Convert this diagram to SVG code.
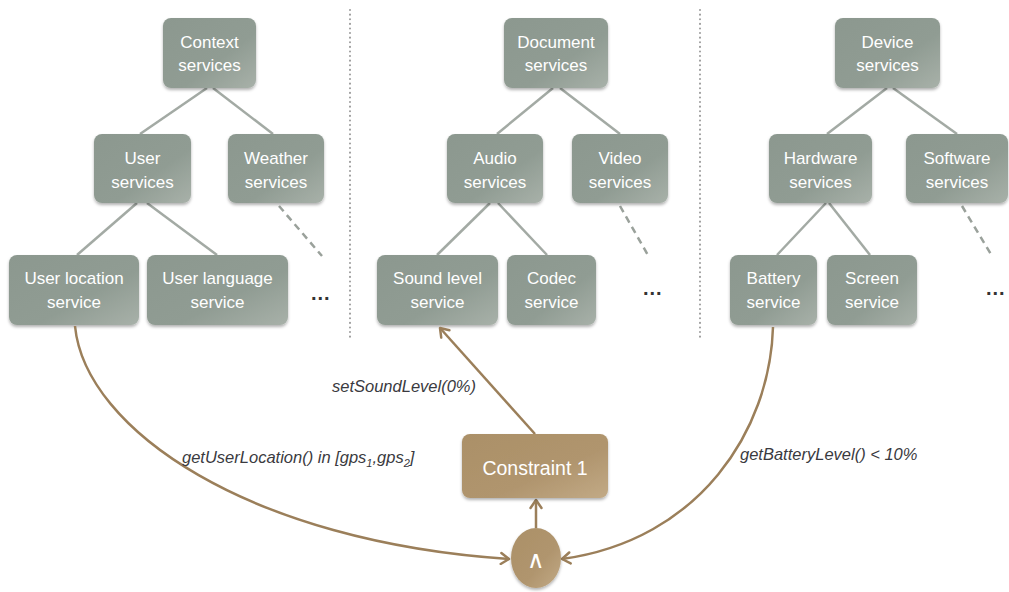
<svg xmlns="http://www.w3.org/2000/svg" width="1009" height="592" viewBox="0 0 1009 592">
<style>
.node rect{fill:url(#g);filter:url(#sh)}
.node text{font-family:"Liberation Sans",Arial,sans-serif;font-size:17px;fill:#fff;text-anchor:middle}
.tree{stroke:#a3aaa4;stroke-width:2.5;fill:none}
.dash{stroke:#9aa19b;stroke-width:2.5;stroke-dasharray:7,5;fill:none}
.sep{stroke:#9a9a9a;stroke-width:2;stroke-dasharray:0.1,4.5;stroke-linecap:round;fill:none}
.conn{stroke:#9b7f5a;stroke-width:2.5;fill:none}
.lbl{font-family:"Liberation Sans",Arial,sans-serif;font-size:16.5px;font-style:italic;fill:#3a3a40}
.dots{font-family:"Liberation Sans",Arial,sans-serif;font-size:20px;font-weight:bold;fill:#333;letter-spacing:1px}
</style>
<defs>
<linearGradient id="g" x1="0" y1="0" x2="1" y2="1">
<stop offset="0" stop-color="#8c988f"/><stop offset="0.6" stop-color="#909c93"/><stop offset="1" stop-color="#a8b1a9"/>
</linearGradient>
<linearGradient id="gb" x1="0" y1="0" x2="1" y2="1">
<stop offset="0" stop-color="#ab9068"/><stop offset="0.6" stop-color="#b0956e"/><stop offset="1" stop-color="#c2aa86"/>
</linearGradient>
<filter id="sh" x="-10%" y="-10%" width="120%" height="130%">
<feDropShadow dx="0" dy="2" stdDeviation="1.5" flood-color="#000" flood-opacity="0.3"/>
</filter>
<marker id="ah" markerWidth="14" markerHeight="14" refX="11" refY="7" orient="auto" markerUnits="userSpaceOnUse">
<polyline points="3,1.5 11,7 3,12.5" fill="none" stroke="#9b7f5a" stroke-width="2.5" stroke-linecap="round" stroke-linejoin="round"/>
</marker>
</defs>
<rect width="1009" height="592" fill="#fff"/>

<g id="separators">
<line class="sep" x1="350" y1="10" x2="350" y2="338"/>
<line class="sep" x1="700" y1="10" x2="700" y2="338"/>
</g>

<g id="tree-lines">
<line class="tree" x1="207" y1="88" x2="140" y2="134"/>
<line class="tree" x1="213" y1="88" x2="273" y2="134"/>
<line class="tree" x1="137" y1="203" x2="77" y2="255"/>
<line class="tree" x1="147" y1="203" x2="217" y2="255"/>
<line class="dash" x1="279" y1="206" x2="322" y2="256"/>
<line class="tree" x1="553" y1="88" x2="497" y2="134"/>
<line class="tree" x1="560" y1="88" x2="620" y2="134"/>
<line class="tree" x1="490" y1="203" x2="437" y2="255"/>
<line class="tree" x1="498" y1="203" x2="547" y2="255"/>
<line class="dash" x1="620" y1="206" x2="649" y2="257"/>
<line class="tree" x1="887" y1="88" x2="827" y2="134"/>
<line class="tree" x1="893" y1="88" x2="957" y2="134"/>
<line class="tree" x1="826" y1="203" x2="777" y2="255"/>
<line class="tree" x1="829" y1="203" x2="870" y2="255"/>
<line class="dash" x1="962" y1="206" x2="992" y2="256"/>
</g>

<g id="n-context" class="node"><rect x="163" y="18" width="93" height="70" rx="8"/><text x="209.5" y="48">Context</text><text x="209.5" y="71">services</text></g>
<g id="n-user" class="node"><rect x="94" y="134" width="97" height="69" rx="8"/><text x="142.5" y="164">User</text><text x="142.5" y="188">services</text></g>
<g id="n-weather" class="node"><rect x="228" y="134" width="96" height="69" rx="8"/><text x="276" y="164">Weather</text><text x="276" y="188">services</text></g>
<g id="n-userloc" class="node"><rect x="9" y="255" width="130" height="70" rx="8"/><text x="74" y="284">User location</text><text x="74" y="308">service</text></g>
<g id="n-userlang" class="node"><rect x="147" y="255" width="141" height="70" rx="8"/><text x="217.5" y="284">User language</text><text x="217.5" y="308">service</text></g>
<text class="dots" x="311" y="300">...</text>

<g id="n-document" class="node"><rect x="504" y="18" width="104" height="70" rx="8"/><text x="556" y="48">Document</text><text x="556" y="71">services</text></g>
<g id="n-audio" class="node"><rect x="447" y="134" width="96" height="69" rx="8"/><text x="495" y="164">Audio</text><text x="495" y="188">services</text></g>
<g id="n-video" class="node"><rect x="572" y="134" width="96" height="69" rx="8"/><text x="620" y="164">Video</text><text x="620" y="188">services</text></g>
<g id="n-sound" class="node"><rect x="377" y="255" width="121" height="70" rx="8"/><text x="437.5" y="284">Sound level</text><text x="437.5" y="308">service</text></g>
<g id="n-codec" class="node"><rect x="507" y="255" width="89" height="70" rx="8"/><text x="551.5" y="284">Codec</text><text x="551.5" y="308">service</text></g>
<text class="dots" x="643" y="295">...</text>

<g id="n-device" class="node"><rect x="835" y="18" width="105" height="70" rx="8"/><text x="887.5" y="48">Device</text><text x="887.5" y="71">services</text></g>
<g id="n-hardware" class="node"><rect x="769" y="134" width="103" height="69" rx="8"/><text x="820.5" y="164">Hardware</text><text x="820.5" y="188">services</text></g>
<g id="n-software" class="node"><rect x="906" y="134" width="102" height="69" rx="8"/><text x="957" y="164">Software</text><text x="957" y="188">services</text></g>
<g id="n-battery" class="node"><rect x="730" y="255" width="87" height="70" rx="8"/><text x="773.5" y="284">Battery</text><text x="773.5" y="308">service</text></g>
<g id="n-screen" class="node"><rect x="827" y="255" width="90" height="70" rx="8"/><text x="872" y="284">Screen</text><text x="872" y="308">service</text></g>
<text class="dots" x="986" y="295">...</text>

<g id="connectors">
<path class="conn" d="M75,326 C85,430 250,542 509,559" marker-end="url(#ah)"/>
<path class="conn" d="M773,327 C770,430 700,540 562,559" marker-end="url(#ah)"/>
<line class="conn" x1="536" y1="528" x2="536" y2="500" marker-end="url(#ah)"/>
<line class="conn" x1="535" y1="434" x2="440" y2="328" marker-end="url(#ah)"/>
</g>

<g id="n-constraint">
<rect x="462" y="434" width="146" height="64" rx="8" fill="url(#gb)" filter="url(#sh)"/>
<text x="535" y="475" font-family="Liberation Sans, Arial, sans-serif" font-size="19.5" fill="#fff" text-anchor="middle">Constraint 1</text>
</g>
<g id="n-and">
<ellipse cx="536" cy="558" rx="25" ry="30" fill="url(#gb)" filter="url(#sh)"/>
<text x="536" y="568" font-family="Liberation Sans, Arial, sans-serif" font-size="24" fill="#fff" text-anchor="middle">∧</text>
</g>

<g id="labels">
<text class="lbl" x="332" y="392">setSoundLevel(0%)</text>
<text class="lbl" x="182" y="463">getUserLocation() in [gps<tspan font-size="11" dy="4">1</tspan><tspan dy="-4">,gps</tspan><tspan font-size="11" dy="4">2</tspan><tspan dy="-4">]</tspan></text>
<text class="lbl" x="740" y="460">getBatteryLevel() &lt; 10%</text>
</g>
</svg>
